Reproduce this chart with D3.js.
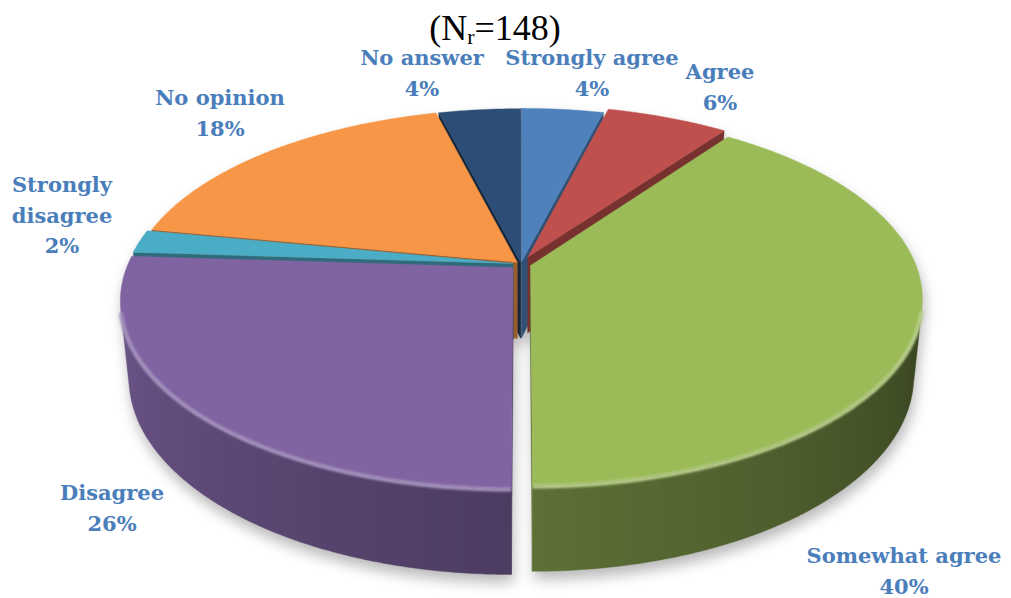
<!DOCTYPE html>
<html>
<head>
<meta charset="utf-8">
<script src="https://cdn.jsdelivr.net/npm/d3@7"></script>
<style>
  html, body { margin: 0; padding: 0; background: #ffffff; }
  svg { display: block; }
</style>
</head>
<body>
<svg id="chart" width="1011" height="598"></svg>
<script>
// Survey answers, in the order the slices run clockwise from 12 o'clock
const categories = ["Strongly agree", "Agree", "Somewhat agree", "Disagree",
                    "Strongly disagree", "No opinion", "No answer"];
const percents = [4, 6, 40, 26, 2, 18, 4];
const sliceColors = ["#4F81BD", "#C0504D", "#9BBB59", "#8064A2",
                     "#4BACC6", "#F79646", "#2C4D75"];
const respondents = 148;

// ---- layout (not data) ----
// how far each slice is pulled out from the centre, in world units
const explode = [5, 16, 10, 11, 8, 5, 4];
// label line breaks and anchor (centre x, first baseline y)
const labelLines = [
  ["Strongly agree"], ["Agree"], ["Somewhat agree"], ["Disagree"],
  ["Strongly", "disagree"], ["No opinion"], ["No answer"]
];
const labelAnchors = [[592, 65], [720, 79], [904, 563], [112, 500],
                      [62, 192], [220, 105], [422, 65]];

// camera / solid parameters
const cx = 521, cy = 264;       // screen position of the pie centre
const R = 385;                  // radius
const TH = 88;                  // thickness of the disc
const tilt = 28 * Math.PI / 180;
const D = 1953;                 // perspective distance
const sinP = Math.sin(tilt), cosP = Math.cos(tilt);
const deg = Math.PI / 180;

const svg = d3.select("#chart");
const defs = svg.append("defs");
defs.append("filter").attr("id", "softShadow")
  .attr("x", "-20%").attr("y", "-20%").attr("width", "140%").attr("height", "150%")
  .append("feGaussianBlur").attr("stdDeviation", 7);
defs.append("filter").attr("id", "rimBlur")
  .attr("x", "-5%").attr("y", "-5%").attr("width", "110%").attr("height", "110%")
  .append("feGaussianBlur").attr("stdDeviation", 1.3);

// world (x right, y away from viewer, z up) -> screen
function project(x, y, z) {
  const yv = y * sinP + z * cosP;
  const zv = y * cosP - z * sinP;
  const s = D / (D + zv);
  return [cx + x * s, cy - yv * s, zv];
}
const camera = [0, -D * cosP, D * sinP];

const pieGen = d3.pie().sort(null).value(d => d);
const slices = pieGen(percents).map((p, i) => {
  const mid = (p.startAngle + p.endAngle) / 2;
  return Object.assign({}, p, {
    i, color: sliceColors[i], mid,
    ox: explode[i] * Math.sin(mid),
    oy: explode[i] * Math.cos(mid)
  });
});

function world(sl, a, r, z) {
  return [sl.ox + r * Math.sin(a), sl.oy + r * Math.cos(a), z];
}
function pt(sl, a, r, z) {
  const w = world(sl, a, r, z);
  return project(w[0], w[1], w[2]);
}
function facing(n, p) {
  return n[0] * (camera[0] - p[0]) + n[1] * (camera[1] - p[1]) + n[2] * (camera[2] - p[2]) > 0;
}
function shade(color, f) {
  const c = d3.rgb(color);
  return d3.rgb(c.r * f, c.g * f, c.b * f).formatHex();
}
const line = d3.line().x(d => d[0]).y(d => d[1]);

const faces = [];
const tops = [];
const rims = [];

slices.forEach(sl => {
  const a0 = sl.startAngle, a1 = sl.endAngle;
  const n = Math.max(2, Math.ceil((a1 - a0) / (0.5 * deg)));
  const arc = d3.range(n + 1).map(k => a0 + (a1 - a0) * k / n);

  // top face
  tops.push({ sl, pts: [pt(sl, 0, 0, 0)].concat(arc.map(a => pt(sl, a, R, 0))) });

  // outer curved side, only where it faces the camera
  const vis = arc.filter(a => facing([Math.sin(a), Math.cos(a), 0], world(sl, a, R, -TH / 2)));
  if (vis.length > 1) {
    const topPts = vis.map(a => pt(sl, a, R, 0));
    const botPts = vis.map(a => pt(sl, a, R, -TH)).reverse();
    const am = vis[Math.floor(vis.length / 2)];
    const depth = pt(sl, am, R, -TH / 2)[2];
    // horizontal light: brighter on the left, darker on the right
    const stops = vis.map(a => {
      const ad = a / deg;
      const f = Math.max(0.34, Math.min(0.9, 0.6 + (ad - 180) * 0.003));
      return { x: pt(sl, a, R, -TH / 2)[0], c: shade(sl.color, f) };
    }).sort((p, q) => p.x - q.x);
    const x0 = stops[0].x, x1 = stops[stops.length - 1].x;
    const gid = "side" + sl.i;
    const g = defs.append("linearGradient").attr("id", gid)
      .attr("gradientUnits", "userSpaceOnUse")
      .attr("x1", x0).attr("y1", 0).attr("x2", x1).attr("y2", 0);
    stops.forEach(s => g.append("stop")
      .attr("offset", x1 > x0 ? (s.x - x0) / (x1 - x0) : 0)
      .attr("stop-color", s.c));
    faces.push({ pts: topPts.concat(botPts), fill: `url(#${gid})`, depth });
    rims.push({ sl, pts: topPts });
  }

  // the two flat cut faces
  [[a0, [-Math.cos(a0), Math.sin(a0), 0]], [a1, [Math.cos(a1), -Math.sin(a1), 0]]]
    .forEach(([a, nrm]) => {
      if (!facing(nrm, world(sl, a, R / 2, -TH / 2))) return;
      const pts = [pt(sl, a, 0, 0), pt(sl, a, R, 0), pt(sl, a, R, -TH), pt(sl, a, 0, -TH)];
      const depth = pt(sl, a, R / 2, -TH / 2)[2];
      faces.push({ pts, fill: shade(sl.color, sl.i === 6 ? 0.5 : 0.62), depth });
    });
});

faces.sort((a, b) => b.depth - a.depth);

// soft drop shadow of the whole solid
const shadow = svg.append("g")
  .attr("transform", "translate(2,8)")
  .attr("filter", "url(#softShadow)")
  .attr("opacity", 0.28);
shadow.selectAll("path.s").data(faces).join("path")
  .attr("d", d => line(d.pts) + "Z").attr("fill", "#000");
shadow.selectAll("path.t").data(tops).join("path")
  .attr("d", d => line(d.pts) + "Z").attr("fill", "#000");

// sides, far to near
svg.append("g").selectAll("path").data(faces).join("path")
  .attr("d", d => line(d.pts) + "Z")
  .attr("fill", d => d.fill)
  .attr("stroke", d => d.fill)
  .attr("stroke-width", 0.4);

// tops
svg.append("g").selectAll("path").data(tops).join("path")
  .attr("d", d => line(d.pts) + "Z")
  .attr("fill", d => d.sl.color)
  .attr("stroke", d => d.sl.color)
  .attr("stroke-width", 0.4);

// rounded bevel highlight where top meets side
svg.append("g").attr("filter", "url(#rimBlur)")
  .selectAll("path").data(rims).join("path")
  .attr("d", d => line(d.pts.map(p => [p[0], p[1] + 1.5])))
  .attr("fill", "none")
  .attr("stroke", d => d3.interpolateRgb(d.sl.color, "#ffffff")(0.3))
  .attr("stroke-width", 4);

// data labels
const labelFont = "'DejaVu Serif', 'Liberation Serif', serif";
const lab = svg.append("g")
  .attr("font-family", labelFont)
  .attr("font-weight", "bold")
  .attr("font-size", 21)
  .attr("fill", "#4A7EBB")
  .attr("text-anchor", "middle");
slices.forEach(sl => {
  const [lx, ly] = labelAnchors[sl.i];
  const lines = labelLines[sl.i].concat([percents[sl.i] + "%"]);
  const t = lab.append("text").attr("x", lx).attr("y", ly);
  lines.forEach((s, k) => t.append("tspan").attr("x", lx).attr("dy", k === 0 ? 0 : 30.5).text(s));
});

// heading
const title = svg.append("text")
  .attr("x", 495).attr("y", 40)
  .attr("text-anchor", "middle")
  .attr("font-family", "'Liberation Serif', 'Times New Roman', serif")
  .attr("font-size", 36)
  .attr("fill", "#000");
title.append("tspan").text("(N");
title.append("tspan").attr("font-size", 22).attr("dy", 4).text("r");
title.append("tspan").attr("dy", -4).text("=" + respondents + ")");
</script>
</body>
</html>
